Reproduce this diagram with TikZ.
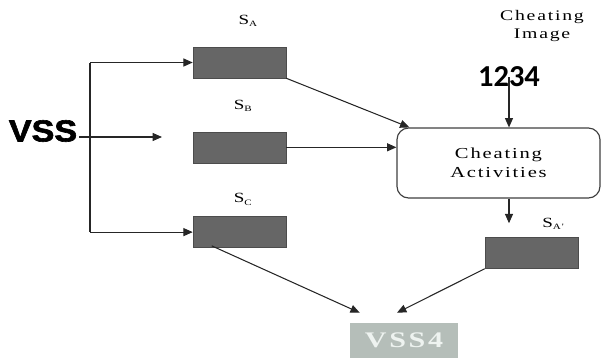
\documentclass[tikz,border=0pt]{standalone}
\usepackage{fontspec}
\setmainfont{Liberation Serif}
\newfontfamily\widefont[FakeStretch=1.35, LetterSpace=12]{Liberation Serif}
\newfontfamily\vssfont[FakeStretch=1.12, FakeBold=2]{Liberation Sans}
\newfontfamily\digitfont{Carlito}
\usetikzlibrary{arrows.meta, positioning, calc}

\definecolor{sharegray}{HTML}{666666}
\definecolor{wssgray}{HTML}{B5BEB9}
\definecolor{wsstext}{HTML}{EEF3F0}

\newcommand{\sharename}[1]{{\widefont S\raisebox{-0.35ex}{\fontsize{7}{7}\selectfont #1}}}

\begin{document}
\begin{tikzpicture}[
    x=0.03cm, y=-0.03cm,
    share/.style={rectangle, draw=black!70, fill=sharegray, minimum width=2.79cm, minimum height=0.93cm, inner sep=0pt},
    process/.style={rectangle, rounded corners=10pt, draw=black!75, line width=1pt, fill=white, minimum width=6.09cm, minimum height=2.1cm, align=center, font=\widefont\fontsize{13}{16}\selectfont},
    result/.style={rectangle, fill=wssgray, minimum width=3.24cm, minimum height=1.05cm, inner sep=0pt, text=wsstext, font=\widefont\bfseries\fontsize{19}{19}\selectfont},
    tag/.style={inner sep=0pt, font=\fontsize{12}{12}\selectfont},
    arrow/.style={-{Triangle[length=2.8mm,width=2.4mm]}, line width=0.9pt, black!85},
    line/.style={line width=1pt, black!85}
]
\useasboundingbox (0,0) rectangle (603,358);

% secret and shares
\node[inner sep=0pt, font=\vssfont\bfseries\fontsize{26}{26}\selectfont] (vss) at (43,131) {VSS};
\node[share] (sa) at (239.5,62.5) {};
\node[share, below=1.6cm of sa] (sb) {};
\node[share, below=1.6cm of sb] (sc) {};

% cheating side
\node[process] (ca) at (498.5,163) {Cheating\\Activities};
\node[inner sep=0pt, font=\digitfont\bfseries\fontsize{26}{26}\selectfont] (img) at (509,77) {1234};
\node[align=center, inner sep=0pt, font=\widefont\fontsize{12.5}{16}\selectfont] (imgtag) at (542,26) {Cheating\\Image};
\node[share] (sap) at (531.5,253) {};

% reconstructed result
\node[result] (wss) at (404,340.5) {VSS4};

% labels
\node[tag, above=0.6cm of sa, xshift=0.25cm] (la) {\sharename{A}};
\node[tag, above=0.58cm of sb, xshift=0.1cm] (lb) {\sharename{B}};
\node[tag, above=0.33cm of sc, xshift=0.1cm] (lc) {\sharename{C}};
\node[tag, above=0.22cm of sap, xshift=0.65cm] (lap) {\sharename{A'}};

% dealer branches
\coordinate (fork) at (90,0);
\coordinate (vssout) at (79,137);
\coordinate (vssend) at (162,137);
\draw[line] (fork |- sa.west) -- (fork |- sc.west);
\draw[arrow] (fork |- sa.west) -- (sa.west);
\draw[arrow] (vssout) -- (vssend);
\draw[arrow] (fork |- sc.west) -- (sc.west);

% into cheating activities
\draw[arrow] (sa.south east) -- ($(ca.north west)+(13,0)$);
\draw[arrow] (sb.east) -- (sb.east -| ca.west);
\draw[arrow] (img.center) -- (img.center |- ca.north);
\draw[arrow, shorten >=0.42cm] (ca.south -| img) -- (sap.north -| img);

% stacking
\draw[arrow] ($(sc.south west)+(19,-2)$) -- ($(wss.north west)+(10,-10)$);
\draw[arrow] (sap.south west) -- ($(wss.north)+(-7,-10)$);

\end{tikzpicture}
\end{document}
